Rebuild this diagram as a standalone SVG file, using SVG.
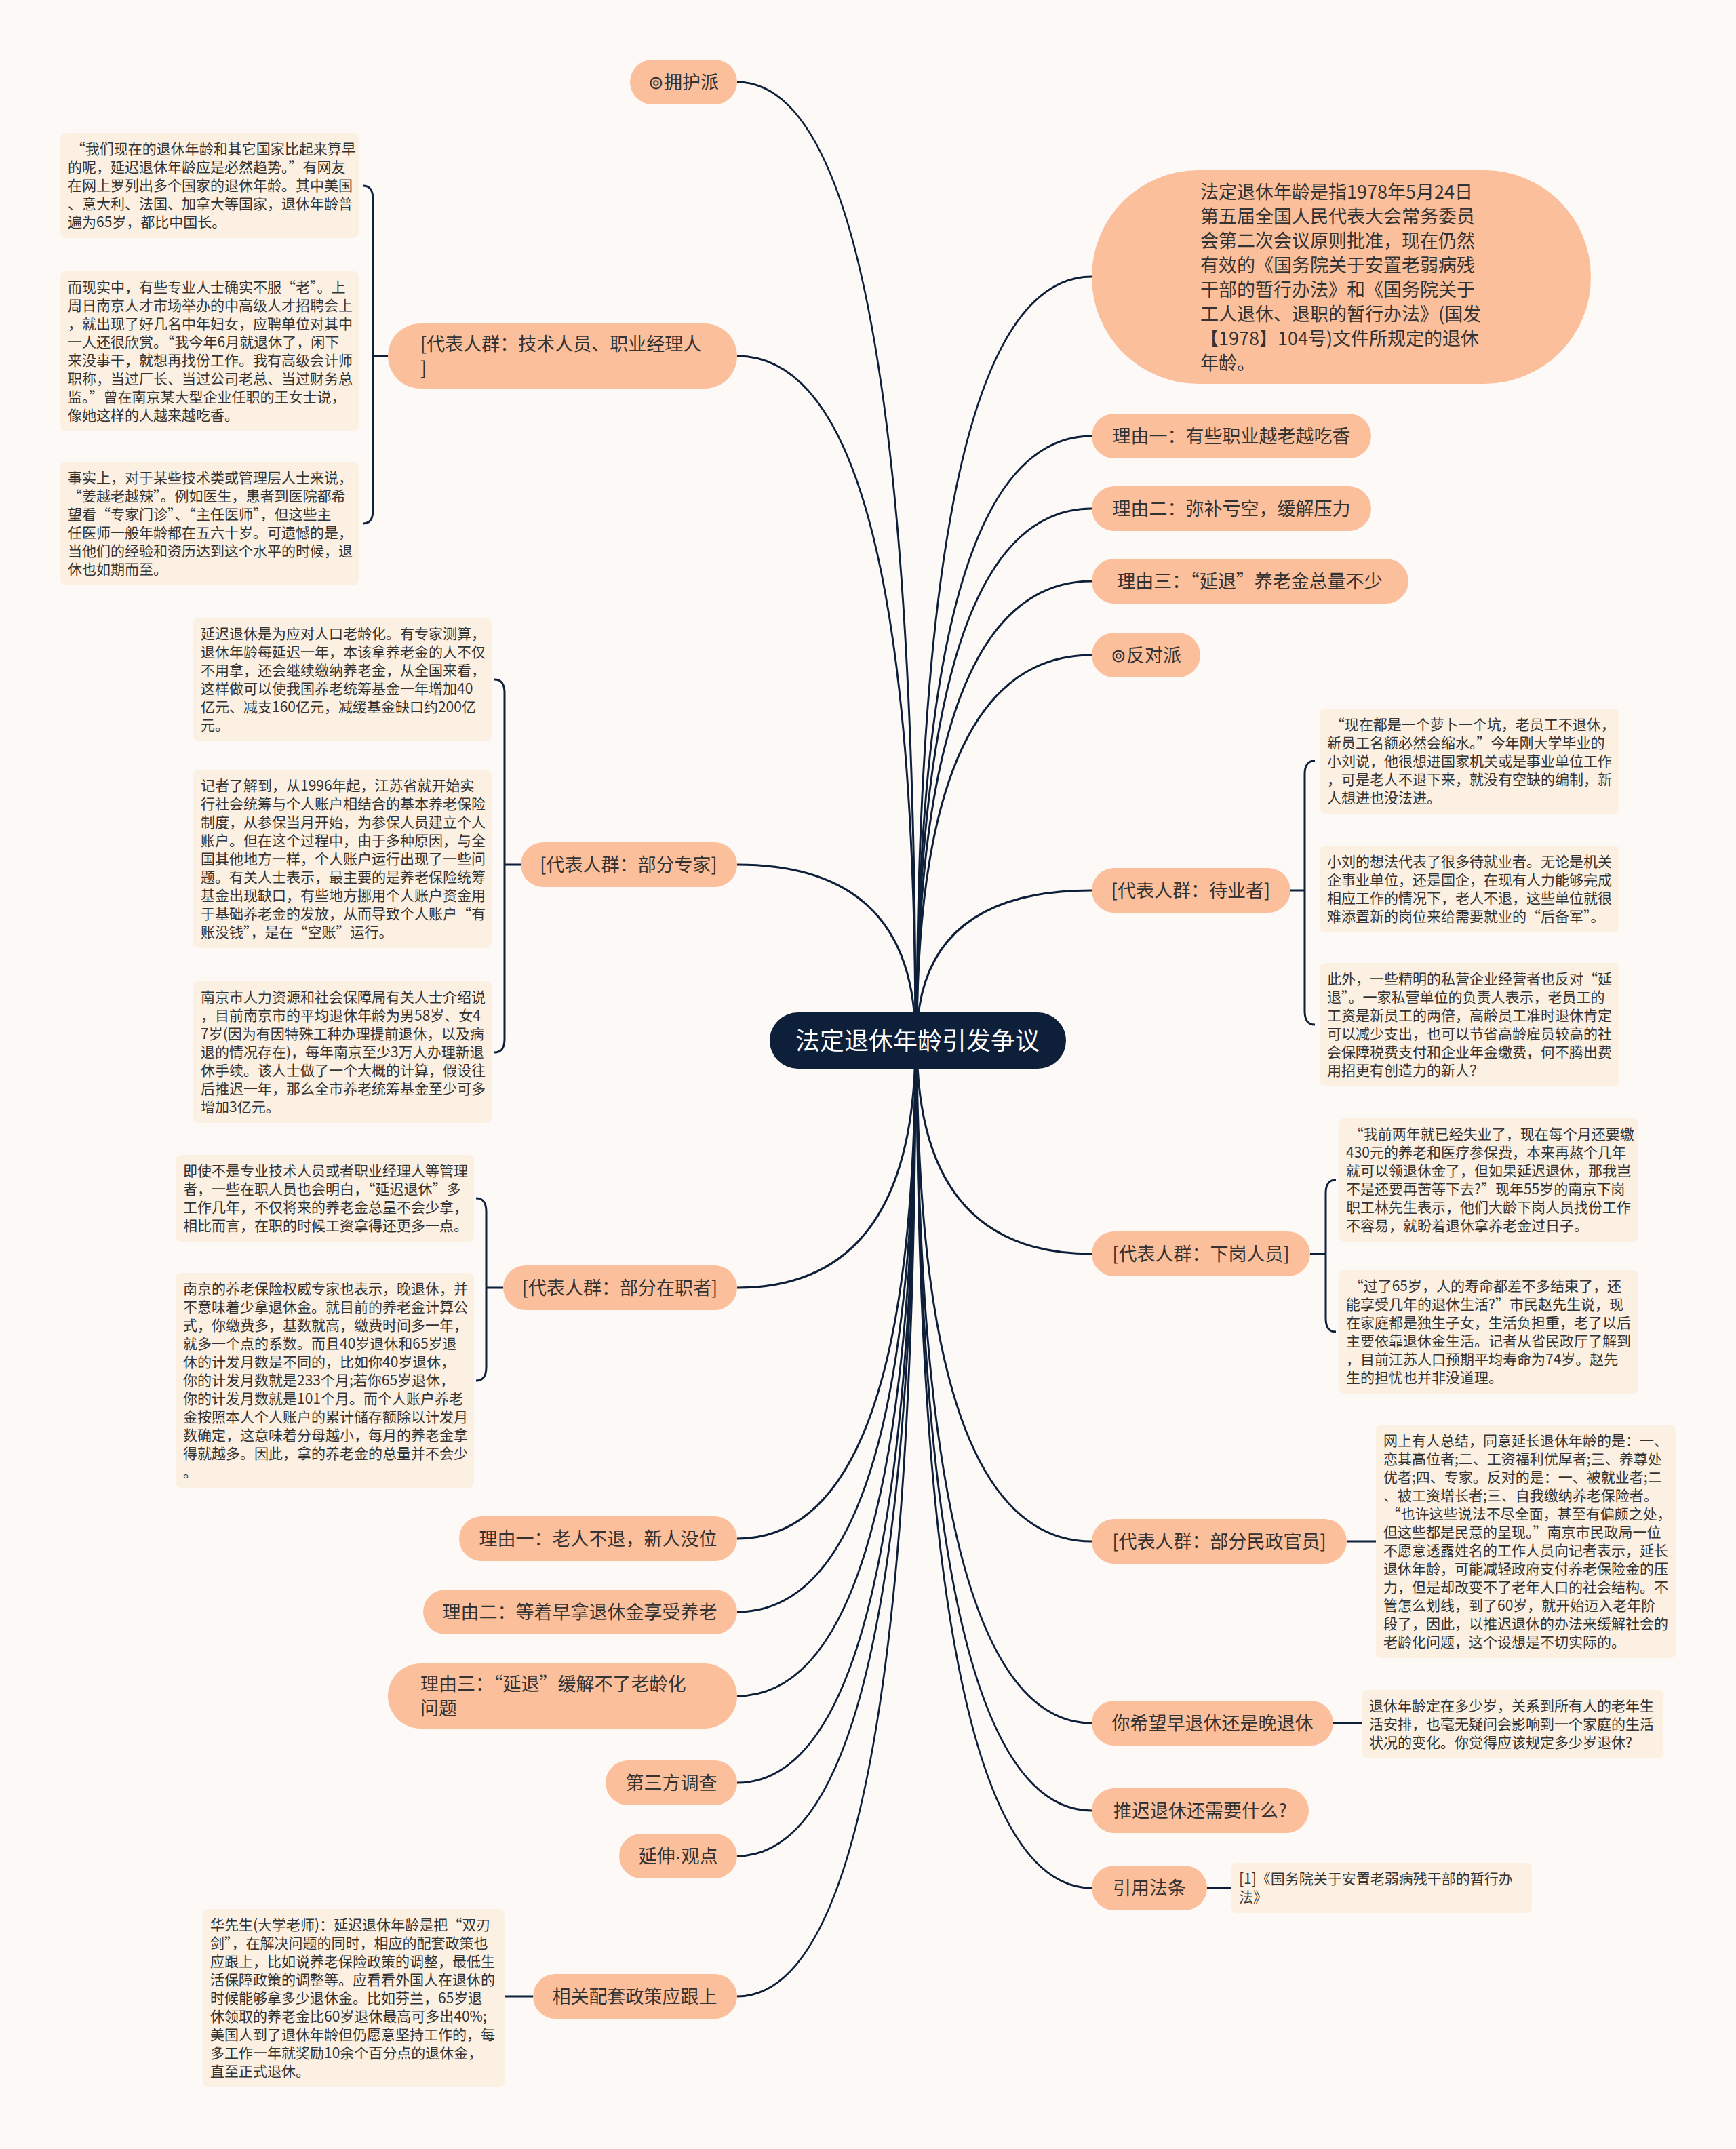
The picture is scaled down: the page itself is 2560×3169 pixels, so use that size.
<svg xmlns="http://www.w3.org/2000/svg" width="2560" height="3169" viewBox="0 0 2560 3169">
<style>
text{font-family:"Noto Sans CJK SC","Noto Sans",sans-serif;fill:#333333}
.conn{fill:none;stroke:#0E1F3A;stroke-width:3}
.main rect{fill:#FCBF9C}
.main text{font-size:27px}
.mid{text-anchor:middle}
.lat{font-family:"Liberation Sans",sans-serif}
.leaf rect{fill:#FCF0E3}
.leaf text{font-size:21px}
.root rect{fill:#0E1F3A}
.root text{font-size:36px;fill:#FFFFFF;text-anchor:middle}
</style>
<rect x="0" y="0" width="2560" height="3169" fill="#FDF9F7"/>

<g id="connectors">
<path class="conn" d="M1350,1535 Q1350,121 1087,121"/>
<path class="conn" d="M1350,1535 Q1350,525 1087,525"/>
<path class="conn" d="M1350,1535 Q1350,1275 1087,1275"/>
<path class="conn" d="M1350,1535 Q1350,1899 1087,1899"/>
<path class="conn" d="M1350,1535 Q1350,2269 1087,2269"/>
<path class="conn" d="M1350,1535 Q1350,2377 1087,2377"/>
<path class="conn" d="M1350,1535 Q1350,2501 1087,2501"/>
<path class="conn" d="M1350,1535 Q1350,2629 1087,2629"/>
<path class="conn" d="M1350,1535 Q1350,2737 1087,2737"/>
<path class="conn" d="M1350,1535 Q1350,2944 1087,2944"/>
<path class="conn" d="M1352,1535 Q1352,408 1610,408"/>
<path class="conn" d="M1352,1535 Q1352,643 1610,643"/>
<path class="conn" d="M1352,1535 Q1352,750 1610,750"/>
<path class="conn" d="M1352,1535 Q1352,857 1610,857"/>
<path class="conn" d="M1352,1535 Q1352,966 1610,966"/>
<path class="conn" d="M1352,1535 Q1352,1313 1610,1313"/>
<path class="conn" d="M1352,1535 Q1352,1849 1610,1849"/>
<path class="conn" d="M1352,1535 Q1352,2273 1610,2273"/>
<path class="conn" d="M1352,1535 Q1352,2541 1610,2541"/>
<path class="conn" d="M1352,1535 Q1352,2670 1610,2670"/>
<path class="conn" d="M1352,1535 Q1352,2784 1610,2784"/>
<path class="conn" d="M572,525 L550,525 M535,274 C546,274 550,281 550,294 L550,752 C550,765 546,772 535,772"/>
<path class="conn" d="M768,1275 L744,1275 M729,1002 C740,1002 744,1009 744,1022 L744,1532 C744,1545 740,1552 729,1552"/>
<path class="conn" d="M742,1899 L717,1899 M702,1767 C713,1767 717,1774 717,1787 L717,2016 C717,2029 713,2036 702,2036"/>
<path class="conn" d="M786,2944 L744,2944"/>
<path class="conn" d="M1903,1313 L1924,1313 M1939,1122 C1928,1122 1924,1129 1924,1142 L1924,1491 C1924,1504 1928,1511 1939,1511"/>
<path class="conn" d="M1932,1849 L1955,1849 M1970,1740 C1959,1740 1955,1747 1955,1760 L1955,1944 C1955,1957 1959,1964 1970,1964"/>
<path class="conn" d="M1986,2273 L2029,2273"/>
<path class="conn" d="M1966,2541 L2008,2541"/>
<path class="conn" d="M1780,2784 L1816,2784"/>
</g>

<g id="root" class="root">
<rect x="1135" y="1493" width="437" height="83" rx="41.5"/>
<text x="1353" y="1548">法定退休年龄引发争议</text>
</g>

<g id="n-yonghu" class="main">
<rect x="929" y="88" width="158" height="66" rx="33"/>
<text class="mid" x="1008" y="131">⊚拥护派</text>
</g>
<g id="n-jishu" class="main">
<rect x="572" y="477" width="515" height="96" rx="48"/>
<text x="620" y="517">[代表人群：技术人员、职业经理人</text>
<text x="620" y="553">]</text>
</g>
<g id="n-zhuanjia" class="main">
<rect x="768" y="1242" width="319" height="66" rx="33"/>
<text class="mid" x="927" y="1285">[代表人群：部分专家]</text>
</g>
<g id="n-zaizhi" class="main">
<rect x="742" y="1866" width="345" height="66" rx="33"/>
<text class="mid" x="914" y="1909">[代表人群：部分在职者]</text>
</g>
<g id="n-l-liyou1" class="main">
<rect x="677" y="2236" width="410" height="66" rx="33"/>
<text class="mid" x="882" y="2279">理由一：老人不退，新人没位</text>
</g>
<g id="n-l-liyou2" class="main">
<rect x="624" y="2344" width="463" height="66" rx="33"/>
<text class="mid" x="855" y="2387">理由二：等着早拿退休金享受养老</text>
</g>
<g id="n-l-liyou3" class="main">
<rect x="572" y="2453" width="515" height="96" rx="48"/>
<text x="620" y="2493">理由三：“延退”缓解不了老龄化</text>
<text x="620" y="2529">问题</text>
</g>
<g id="n-disanfang" class="main">
<rect x="893" y="2596" width="194" height="66" rx="33"/>
<text class="mid" x="990" y="2639">第三方调查</text>
</g>
<g id="n-yanshen" class="main">
<rect x="913" y="2704" width="174" height="66" rx="33"/>
<text class="mid" x="1000" y="2747">延伸<tspan class="lat">·</tspan>观点</text>
</g>
<g id="n-peitao" class="main">
<rect x="786" y="2911" width="301" height="66" rx="33"/>
<text class="mid" x="936" y="2954">相关配套政策应跟上</text>
</g>

<g id="n-fading" class="main">
<rect x="1610" y="251" width="736" height="315" rx="157"/>
<text x="1770" y="293">法定退休年龄是指1978年5月24日</text>
<text x="1770" y="329">第五届全国人民代表大会常务委员</text>
<text x="1770" y="365">会第二次会议原则批准，现在仍然</text>
<text x="1770" y="401">有效的《国务院关于安置老弱病残</text>
<text x="1770" y="437">干部的暂行办法》和《国务院关于</text>
<text x="1770" y="473">工人退休、退职的暂行办法》(国发</text>
<text x="1770" y="509">【1978】104号)文件所规定的退休</text>
<text x="1770" y="545">年龄。</text>
</g>
<g id="n-r-liyou1" class="main">
<rect x="1610" y="610" width="412" height="66" rx="33"/>
<text class="mid" x="1816" y="653">理由一：有些职业越老越吃香</text>
</g>
<g id="n-r-liyou2" class="main">
<rect x="1610" y="717" width="412" height="66" rx="33"/>
<text class="mid" x="1816" y="760">理由二：弥补亏空，缓解压力</text>
</g>
<g id="n-r-liyou3" class="main">
<rect x="1610" y="824" width="467" height="66" rx="33"/>
<text class="mid" x="1843" y="867">理由三：“延退”养老金总量不少</text>
</g>
<g id="n-fandui" class="main">
<rect x="1610" y="933" width="160" height="66" rx="33"/>
<text class="mid" x="1690" y="976">⊚反对派</text>
</g>
<g id="n-daiye" class="main">
<rect x="1610" y="1280" width="293" height="66" rx="33"/>
<text class="mid" x="1756" y="1323">[代表人群：待业者]</text>
</g>
<g id="n-xiagang" class="main">
<rect x="1610" y="1816" width="322" height="66" rx="33"/>
<text class="mid" x="1771" y="1859">[代表人群：下岗人员]</text>
</g>
<g id="n-minzheng" class="main">
<rect x="1610" y="2240" width="376" height="66" rx="33"/>
<text class="mid" x="1798" y="2283">[代表人群：部分民政官员]</text>
</g>
<g id="n-xiwang" class="main">
<rect x="1610" y="2508" width="356" height="66" rx="33"/>
<text class="mid" x="1788" y="2551">你希望早退休还是晚退休</text>
</g>
<g id="n-tuichi" class="main">
<rect x="1610" y="2637" width="320" height="66" rx="33"/>
<text class="mid" x="1770" y="2680">推迟退休还需要什么?</text>
</g>
<g id="n-yinyong" class="main">
<rect x="1610" y="2751" width="170" height="66" rx="33"/>
<text class="mid" x="1695" y="2794">引用法条</text>
</g>

<g id="t-jishu-1" class="leaf">
<rect x="89" y="196" width="440" height="155" rx="8"/>
<text x="100" y="227">&#160;“我们现在的退休年龄和其它国家比起来算早</text>
<text x="100" y="254">的呢，延迟退休年龄应是必然趋势。”有网友</text>
<text x="100" y="281">在网上罗列出多个国家的退休年龄。其中美国</text>
<text x="100" y="308">、意大利、法国、加拿大等国家，退休年龄普</text>
<text x="100" y="335">遍为65岁，都比中国长。</text>
</g>
<g id="t-jishu-2" class="leaf">
<rect x="89" y="400" width="440" height="236" rx="8"/>
<text x="100" y="431">而现实中，有些专业人士确实不服“老”。上</text>
<text x="100" y="458">周日南京人才市场举办的中高级人才招聘会上</text>
<text x="100" y="485">，就出现了好几名中年妇女，应聘单位对其中</text>
<text x="100" y="512">一人还很欣赏。“我今年6月就退休了，闲下</text>
<text x="100" y="539">来没事干，就想再找份工作。我有高级会计师</text>
<text x="100" y="566">职称，当过厂长、当过公司老总、当过财务总</text>
<text x="100" y="593">监。”曾在南京某大型企业任职的王女士说，</text>
<text x="100" y="620">像她这样的人越来越吃香。</text>
</g>
<g id="t-jishu-3" class="leaf">
<rect x="89" y="681" width="440" height="182" rx="8"/>
<text x="100" y="712">事实上，对于某些技术类或管理层人士来说，</text>
<text x="100" y="739">“姜越老越辣”。例如医生，患者到医院都希</text>
<text x="100" y="766">望看“专家门诊”、“主任医师”，但这些主</text>
<text x="100" y="793">任医师一般年龄都在五六十岁。可遗憾的是，</text>
<text x="100" y="820">当他们的经验和资历达到这个水平的时候，退</text>
<text x="100" y="847">休也如期而至。</text>
</g>

<g id="t-zhuanjia-1" class="leaf">
<rect x="285" y="911" width="440" height="182" rx="8"/>
<text x="296" y="942">延迟退休是为应对人口老龄化。有专家测算，</text>
<text x="296" y="969">退休年龄每延迟一年，本该拿养老金的人不仅</text>
<text x="296" y="996">不用拿，还会继续缴纳养老金，从全国来看，</text>
<text x="296" y="1023">这样做可以使我国养老统筹基金一年增加40</text>
<text x="296" y="1050">亿元、减支160亿元，减缓基金缺口约200亿</text>
<text x="296" y="1077">元。</text>
</g>
<g id="t-zhuanjia-2" class="leaf">
<rect x="285" y="1135" width="440" height="263" rx="8"/>
<text x="296" y="1166">记者了解到，从1996年起，江苏省就开始实</text>
<text x="296" y="1193">行社会统筹与个人账户相结合的基本养老保险</text>
<text x="296" y="1220">制度，从参保当月开始，为参保人员建立个人</text>
<text x="296" y="1247">账户。但在这个过程中，由于多种原因，与全</text>
<text x="296" y="1274">国其他地方一样，个人账户运行出现了一些问</text>
<text x="296" y="1301">题。有关人士表示，最主要的是养老保险统筹</text>
<text x="296" y="1328">基金出现缺口，有些地方挪用个人账户资金用</text>
<text x="296" y="1355">于基础养老金的发放，从而导致个人账户“有</text>
<text x="296" y="1382">账没钱”，是在“空账”运行。</text>
</g>
<g id="t-zhuanjia-3" class="leaf">
<rect x="285" y="1447" width="440" height="209" rx="8"/>
<text x="296" y="1478">南京市人力资源和社会保障局有关人士介绍说</text>
<text x="296" y="1505">，目前南京市的平均退休年龄为男58岁、女4</text>
<text x="296" y="1532">7岁(因为有因特殊工种办理提前退休，以及病</text>
<text x="296" y="1559">退的情况存在)，每年南京至少3万人办理新退</text>
<text x="296" y="1586">休手续。该人士做了一个大概的计算，假设往</text>
<text x="296" y="1613">后推迟一年，那么全市养老统筹基金至少可多</text>
<text x="296" y="1640">增加3亿元。</text>
</g>

<g id="t-zaizhi-1" class="leaf">
<rect x="259" y="1703" width="440" height="128" rx="8"/>
<text x="270" y="1734">即使不是专业技术人员或者职业经理人等管理</text>
<text x="270" y="1761">者，一些在职人员也会明白，“延迟退休”多</text>
<text x="270" y="1788">工作几年，不仅将来的养老金总量不会少拿，</text>
<text x="270" y="1815">相比而言，在职的时候工资拿得还更多一点。</text>
</g>
<g id="t-zaizhi-2" class="leaf">
<rect x="259" y="1877" width="440" height="317" rx="8"/>
<text x="270" y="1908">南京的养老保险权威专家也表示，晚退休，并</text>
<text x="270" y="1935">不意味着少拿退休金。就目前的养老金计算公</text>
<text x="270" y="1962">式，你缴费多，基数就高，缴费时间多一年，</text>
<text x="270" y="1989">就多一个点的系数。而且40岁退休和65岁退</text>
<text x="270" y="2016">休的计发月数是不同的，比如你40岁退休，</text>
<text x="270" y="2043">你的计发月数就是233个月;若你65岁退休，</text>
<text x="270" y="2070">你的计发月数就是101个月。而个人账户养老</text>
<text x="270" y="2097">金按照本人个人账户的累计储存额除以计发月</text>
<text x="270" y="2124">数确定，这意味着分母越小，每月的养老金拿</text>
<text x="270" y="2151">得就越多。因此，拿的养老金的总量并不会少</text>
<text x="270" y="2178">。</text>
</g>

<g id="t-peitao" class="leaf">
<rect x="299" y="2815" width="445" height="263" rx="8"/>
<text x="310" y="2846">华先生(大学老师)：延迟退休年龄是把“双刃</text>
<text x="310" y="2873">剑”，在解决问题的同时，相应的配套政策也</text>
<text x="310" y="2900">应跟上，比如说养老保险政策的调整，最低生</text>
<text x="310" y="2927">活保障政策的调整等。应看看外国人在退休的</text>
<text x="310" y="2954">时候能够拿多少退休金。比如芬兰，65岁退</text>
<text x="310" y="2981">休领取的养老金比60岁退休最高可多出40%;</text>
<text x="310" y="3008">美国人到了退休年龄但仍愿意坚持工作的，每</text>
<text x="310" y="3035">多工作一年就奖励10余个百分点的退休金，</text>
<text x="310" y="3062">直至正式退休。</text>
</g>

<g id="t-daiye-1" class="leaf">
<rect x="1946" y="1045" width="442" height="155" rx="8"/>
<text x="1957" y="1076">&#160;“现在都是一个萝卜一个坑，老员工不退休，</text>
<text x="1957" y="1103">新员工名额必然会缩水。”今年刚大学毕业的</text>
<text x="1957" y="1130">小刘说，他很想进国家机关或是事业单位工作</text>
<text x="1957" y="1157">，可是老人不退下来，就没有空缺的编制，新</text>
<text x="1957" y="1184">人想进也没法进。</text>
</g>
<g id="t-daiye-2" class="leaf">
<rect x="1946" y="1247" width="442" height="128" rx="8"/>
<text x="1957" y="1278">小刘的想法代表了很多待就业者。无论是机关</text>
<text x="1957" y="1305">企事业单位，还是国企，在现有人力能够完成</text>
<text x="1957" y="1332">相应工作的情况下，老人不退，这些单位就很</text>
<text x="1957" y="1359">难添置新的岗位来给需要就业的“后备军”。</text>
</g>
<g id="t-daiye-3" class="leaf">
<rect x="1946" y="1420" width="442" height="182" rx="8"/>
<text x="1957" y="1451">此外，一些精明的私营企业经营者也反对“延</text>
<text x="1957" y="1478">退”。一家私营单位的负责人表示，老员工的</text>
<text x="1957" y="1505">工资是新员工的两倍，高龄员工准时退休肯定</text>
<text x="1957" y="1532">可以减少支出，也可以节省高龄雇员较高的社</text>
<text x="1957" y="1559">会保障税费支付和企业年金缴费，何不腾出费</text>
<text x="1957" y="1586">用招更有创造力的新人？</text>
</g>

<g id="t-xiagang-1" class="leaf">
<rect x="1974" y="1649" width="442" height="182" rx="8"/>
<text x="1985" y="1680">&#160;“我前两年就已经失业了，现在每个月还要缴</text>
<text x="1985" y="1707">430元的养老和医疗参保费，本来再熬个几年</text>
<text x="1985" y="1734">就可以领退休金了，但如果延迟退休，那我岂</text>
<text x="1985" y="1761">不是还要再苦等下去?”现年55岁的南京下岗</text>
<text x="1985" y="1788">职工林先生表示，他们大龄下岗人员找份工作</text>
<text x="1985" y="1815">不容易，就盼着退休拿养老金过日子。</text>
</g>
<g id="t-xiagang-2" class="leaf">
<rect x="1974" y="1873" width="442" height="182" rx="8"/>
<text x="1985" y="1904">&#160;“过了65岁，人的寿命都差不多结束了，还</text>
<text x="1985" y="1931">能享受几年的退休生活?”市民赵先生说，现</text>
<text x="1985" y="1958">在家庭都是独生子女，生活负担重，老了以后</text>
<text x="1985" y="1985">主要依靠退休金生活。记者从省民政厅了解到</text>
<text x="1985" y="2012">，目前江苏人口预期平均寿命为74岁。赵先</text>
<text x="1985" y="2039">生的担忧也并非没道理。</text>
</g>

<g id="t-minzheng" class="leaf">
<rect x="2029" y="2101" width="442" height="344" rx="8"/>
<text x="2040" y="2132">网上有人总结，同意延长退休年龄的是：一、</text>
<text x="2040" y="2159">恋其高位者;二、工资福利优厚者;三、养尊处</text>
<text x="2040" y="2186">优者;四、专家。反对的是：一、被就业者;二</text>
<text x="2040" y="2213">、被工资增长者;三、自我缴纳养老保险者。</text>
<text x="2040" y="2240">&#160;“也许这些说法不尽全面，甚至有偏颇之处，</text>
<text x="2040" y="2267">但这些都是民意的呈现。”南京市民政局一位</text>
<text x="2040" y="2294">不愿意透露姓名的工作人员向记者表示，延长</text>
<text x="2040" y="2321">退休年龄，可能减轻政府支付养老保险金的压</text>
<text x="2040" y="2348">力，但是却改变不了老年人口的社会结构。不</text>
<text x="2040" y="2375">管怎么划线，到了60岁，就开始迈入老年阶</text>
<text x="2040" y="2402">段了，因此，以推迟退休的办法来缓解社会的</text>
<text x="2040" y="2429">老龄化问题，这个设想是不切实际的。</text>
</g>

<g id="t-xiwang" class="leaf">
<rect x="2008" y="2492" width="445" height="101" rx="8"/>
<text x="2019" y="2523">退休年龄定在多少岁，关系到所有人的老年生</text>
<text x="2019" y="2550">活安排，也毫无疑问会影响到一个家庭的生活</text>
<text x="2019" y="2577">状况的变化。你觉得应该规定多少岁退休?</text>
</g>

<g id="t-yinyong" class="leaf">
<rect x="1816" y="2747" width="443" height="74" rx="8"/>
<text x="1827" y="2778">[1]《国务院关于安置老弱病残干部的暂行办</text>
<text x="1827" y="2805">法》</text>
</g>
</svg>
